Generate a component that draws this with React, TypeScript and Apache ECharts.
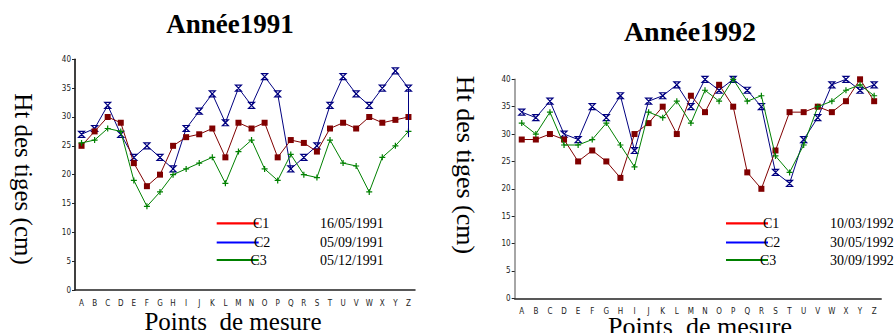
import React, { useEffect, useRef } from 'react';
import * as echarts from 'echarts';

const points = ['A','B','C','D','E','F','G','H','I','J','K','L','M','N','O','P','Q','R','S','T','U','V','W','X','Y','Z'];
const yTicks = { min: 0, max: 40, interval: 5 };

const c1_1991 = [25,27.5,30,29,22,18,20,25,26.5,27,28,23,29,28,29,23,26,25.5,24,28,29,28,30,29,29.5,30];
const c2_1991 = [27,28,32,27,23,25,23,21,28,31,34,29,35,32,37,34,21,23,25,32,37,34,32,35,38,35];
const c3_1991 = [25.5,26,28,27.5,19,14.5,17,20,21,22,23,18.5,24,26,21,19,23.5,20,19.5,26,22,21.5,17,23,25,27.5];
const c2_1991_tail = 26.5;

const c1_1992 = [29,29,30,29,25,27,25,22,30,32,35,30,37,34,39,35,23,20,27,34,34,35,34,36,40,36];
const c2_1992 = [34,33,36,30,29,35,33,37,27,36,37,39,35,40,38,40,38,35,23,21,29,33,39,40,38,39];
const c3_1992 = [32,30,34,28,28,29,32,28,24,34,33,36,32,38,36,40,36,37,26,23,28,35,36,38,39,37];

const seriesNames = ['C1', 'C2', 'C3'];
const dates1991 = ['16/05/1991', '05/09/1991', '05/12/1991'];
const dates1992 = ['10/03/1992', '30/05/1992', '30/09/1992'];

const lineColors = ['#800000', '#000080', '#008000'];
const legendColors = ['#ff0000', '#0000ff', '#008000'];

const SERIF = "'Liberation Serif', 'DejaVu Serif', serif";
const NARROW = "'Liberation Sans Narrow', 'DejaVu Sans Condensed', sans-serif";

const symbols = [
  'rect',
  'path://M0,0L10,0L0,10L10,10Z',
  'path://M5,0L5,10M0,5L10,5',
];

function mkSeries(idx: number, data: number[], gi: number, name: string, extra?: any) {
  const s: any = {
    type: 'line',
    name,
    xAxisIndex: gi,
    yAxisIndex: gi,
    data,
    lineStyle: { color: lineColors[idx], width: 1 },
    symbol: symbols[idx],
    symbolSize: 6,
    itemStyle:
      idx === 0
        ? { color: lineColors[0] }
        : { color: 'rgba(0,0,0,0)', borderColor: lineColors[idx], borderWidth: 1.2 },
    z: idx === 0 ? 3 : idx === 1 ? 2 : 4,
  };
  if (extra) Object.assign(s, extra);
  return s;
}

export default function App() {
  const ref = useRef<HTMLDivElement>(null);
  useEffect(() => {
    if (!ref.current) return;
    const chart = echarts.init(ref.current, null, { renderer: 'svg' });

    const grids = [
      { left: 75, top: 59.3, width: 340, height: 230.7 },
      { left: 514.7, top: 79.3, width: 366.5, height: 219 },
    ];
    const axisColors = ['#000', '#888'];

    const xAxes = grids.map((_, i) => ({
      type: 'category',
      gridIndex: i,
      data: points,
      boundaryGap: true,
      axisLine: { lineStyle: { color: '#222', width: 1.5 } },
      axisTick: { inside: true, length: 3, lineStyle: { color: '#222' } },
      axisLabel: { fontFamily: NARROW, fontSize: 8, color: '#222', margin: 9, interval: 0 },
      splitLine: { show: false },
    }));
    const yAxes = grids.map((_, i) => ({
      type: 'value',
      gridIndex: i,
      min: yTicks.min,
      max: yTicks.max,
      interval: yTicks.interval,
      axisLine: { show: true, lineStyle: { color: axisColors[i], width: 1.5 } },
      axisTick: { show: true, length: 3, lineStyle: { color: '#222' } },
      axisLabel: { fontFamily: NARROW, fontSize: 8, color: '#222', margin: 4 },
      splitLine: { show: false },
    }));

    const series: any[] = [
      mkSeries(0, c1_1991, 0, seriesNames[0]),
      mkSeries(1, c2_1991, 0, seriesNames[1], {
        markLine: {
          silent: true,
          symbol: 'none',
          label: { show: false },
          lineStyle: { color: lineColors[1], width: 1, type: 'solid' },
          data: [[{ coord: ['Z', c2_1991[25]] }, { coord: ['Z', c2_1991_tail] }]],
        },
      }),
      mkSeries(2, c3_1991, 0, seriesNames[2]),
      mkSeries(0, c1_1992, 1, seriesNames[0]),
      mkSeries(1, c2_1992, 1, seriesNames[1]),
      mkSeries(2, c3_1992, 1, seriesNames[2]),
    ];

    const legendY = [223.3, 242.5, 260];
    const legendGraphics: any[] = [];
    const legends = [
      { lx: 216.7, lw: 42, cx: [253, 254, 250.5], dx: 320, dates: dates1991 },
      { lx: 726, lw: 42, cx: [763, 764, 760], dx: 830, dates: dates1992 },
    ];
    legends.forEach((lg) => {
      seriesNames.forEach((n, i) => {
        legendGraphics.push({
          type: 'line',
          shape: { x1: lg.lx, y1: legendY[i], x2: lg.lx + lg.lw, y2: legendY[i] },
          style: { stroke: legendColors[i], lineWidth: 2.2 },
        });
        legendGraphics.push({
          type: 'text',
          x: lg.cx[i],
          y: legendY[i],
          style: { text: n, font: `14px ${SERIF}`, fill: '#000', textVerticalAlign: 'middle', textAlign: 'left' },
        });
        legendGraphics.push({
          type: 'text',
          x: lg.dx,
          y: legendY[i],
          style: { text: lg.dates[i], font: `14px ${SERIF}`, fill: '#000', textVerticalAlign: 'middle', textAlign: 'left' },
        });
      });
    });

    const texts: any[] = [
      { type: 'text', x: 230, y: 24, style: { text: 'Année1991', font: `bold 27px ${SERIF}`, fill: '#000', textAlign: 'center', textVerticalAlign: 'middle' } },
      { type: 'text', x: 690, y: 31, style: { text: 'Année1992', font: `bold 28px ${SERIF}`, fill: '#000', textAlign: 'center', textVerticalAlign: 'middle' } },
      { type: 'text', x: 23, y: 179, rotation: -Math.PI / 2, style: { text: 'Ht des tiges (cm)', font: `25px ${SERIF}`, fill: '#000', textAlign: 'center', textVerticalAlign: 'middle' } },
      { type: 'text', x: 465, y: 165, rotation: -Math.PI / 2, style: { text: 'Ht des tiges (cm)', font: `26px ${SERIF}`, fill: '#000', textAlign: 'center', textVerticalAlign: 'middle' } },
      { type: 'text', x: 233, y: 321, style: { text: 'Points  de mesure', font: `25px ${SERIF}`, fill: '#000', textAlign: 'center', textVerticalAlign: 'middle' } },
      { type: 'text', x: 700, y: 326, style: { text: 'Points  de mesure', font: `26px ${SERIF}`, fill: '#000', textAlign: 'center', textVerticalAlign: 'middle' } },
    ];

    chart.setOption({
      animation: false,
      backgroundColor: '#fff',
      grid: grids,
      xAxis: xAxes,
      yAxis: yAxes,
      series,
      graphic: [...texts, ...legendGraphics],
    });
    return () => chart.dispose();
  }, []);
  return <div ref={ref} style={{ position: 'fixed', left: 0, top: 0, width: 895, height: 333 }} />;
}
